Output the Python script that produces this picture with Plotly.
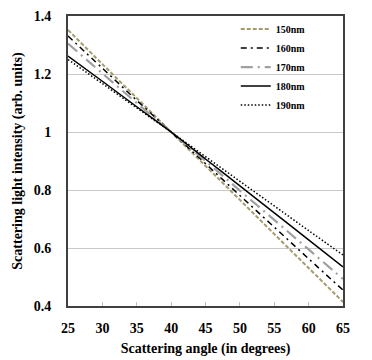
import plotly.graph_objects as go

angles = [25, 30, 35, 40, 45, 50, 55, 60, 65]
s150 = [1.352, 1.234, 1.117, 1.0, 0.883, 0.766, 0.648, 0.531, 0.414]
s160 = [1.331, 1.220, 1.109, 1.0, 0.891, 0.781, 0.672, 0.563, 0.455]
s170 = [1.305, 1.202, 1.100, 1.0, 0.900, 0.798, 0.697, 0.595, 0.493]
s180 = [1.262, 1.175, 1.087, 1.0, 0.907, 0.814, 0.721, 0.628, 0.535]
s190 = [1.250, 1.167, 1.083, 1.0, 0.915, 0.830, 0.745, 0.660, 0.576]
names = ["150nm", "160nm", "170nm", "180nm", "190nm"]

styles = [
    dict(color="#a39c6c", width=2, dash="4px,2px"),
    dict(color="#000000", width=1.5, dash="6px,4px,2px,4px"),
    dict(color="#a0a0a0", width=2.2, dash="12px,5px,2px,5px"),
    dict(color="#000000", width=1.5, dash="solid"),
    dict(color="#000000", width=1.5, dash="1.5px,2px"),
]

fig = go.Figure()
for name, ys, st in zip(names, [s150, s160, s170, s180, s190], styles):
    fig.add_trace(go.Scatter(x=angles, y=ys, mode="lines", name=name,
                             line=dict(shape="spline", **st)))

font_family = "Liberation Serif, Times New Roman, serif"
fig.update_layout(
    width=372, height=360,
    margin=dict(l=68, r=29, t=16, b=54, autoexpand=False),
    paper_bgcolor="white", plot_bgcolor="white",
    font=dict(family=font_family, color="black"),
    showlegend=True,
    legend=dict(x=0.61, y=1.005, xanchor="left", yanchor="top",
                bgcolor="rgba(0,0,0,0)", itemwidth=30,
                font=dict(family=font_family, size=10, color="black", weight="bold"),
                tracegroupgap=0),
    xaxis=dict(range=[25, 65], tickvals=[25, 30, 35, 40, 45, 50, 55, 60, 65],
               showgrid=False, zeroline=False, automargin=False,
               showline=True, linecolor="#404040", linewidth=2, mirror=True,
               ticks="inside", ticklen=4, tickcolor="#c0c0c0",
               ticklabelstandoff=8,
               tickfont=dict(family=font_family, size=14, color="black", weight="bold"),
               title=dict(text="Scattering angle (in degrees)",
                          font=dict(family=font_family, size=14, color="black", weight="bold"),
                          standoff=8)),
    yaxis=dict(range=[0.4, 1.4], tickvals=[0.4, 0.6, 0.8, 1.0, 1.2, 1.4],
               ticktext=["0.4", "0.6", "0.8", "1", "1.2", "1.4"],
               showgrid=True, gridcolor="#c8c8c8", gridwidth=1, zeroline=False,
               automargin=False,
               showline=True, linecolor="#404040", linewidth=2, mirror=True,
               ticks="", ticklabelstandoff=12,
               tickfont=dict(family=font_family, size=14, color="black", weight="bold"),
               title=dict(text="Scattering light intensity (arb. units)",
                          font=dict(family=font_family, size=14, color="black", weight="bold"),
                          standoff=8)),
)

fig.write_html("out.html",
               config={"displayModeBar": False},
               post_script="document.body.style.margin='0';document.body.style.overflow='hidden';")
